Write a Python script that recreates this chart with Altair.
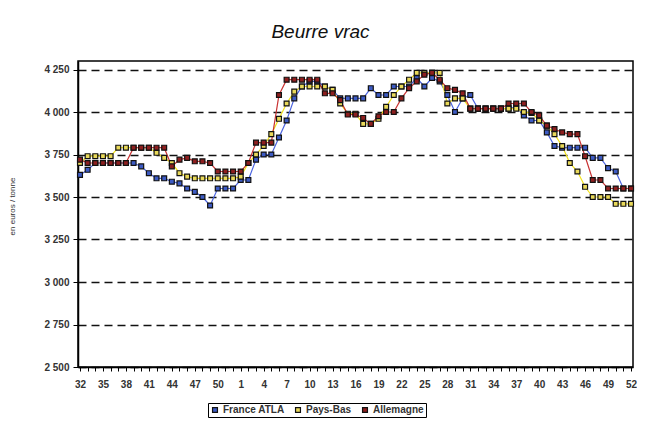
import altair as alt
import pandas as pd

# week labels: week 32 of year 1 to week 52 of year 2
weeks = [str(w) for w in list(range(32, 53)) + list(range(1, 53))]

france = [3630, 3660, 3700, 3700, 3700, 3700, 3700, 3700, 3680, 3640,
          3610, 3610, 3590, 3580, 3550, 3530, 3500, 3450, 3550, 3550,
          3550, 3600, 3600, 3720, 3750, 3750, 3850, 3950, 4080, 4150,
          4180, 4180, 4150, 4130, 4080, 4080, 4080, 4080, 4140, 4100,
          4100, 4150, 4150, 4150, 4200, 4150, 4200, 4180, 4100, 4000,
          4080, 4100, 4020, 4020, 4020, 4020, 4020, 4030, 3980, 3950,
          3950, 3880, 3800, 3790, 3790, 3790, 3790, 3730, 3730, 3670,
          3650, 3550, 3550]

paysbas = [3700, 3740, 3740, 3740, 3740, 3790, 3790, 3790, 3790, 3790,
           3760, 3730, 3700, 3640, 3620, 3610, 3610, 3610, 3610, 3610,
           3610, 3620, 3700, 3750, 3800, 3870, 3960, 4050, 4120, 4150,
           4150, 4150, 4150, 4130, 4050, 3990, 3990, 3930, 3930, 3960,
           4030, 4100, 4150, 4190, 4230, 4230, 4230, 4230, 4050, 4080,
           4080, 4020, 4020, 4020, 4020, 4020, 4020, 4020, 4000, 3995,
           3950, 3920, 3870, 3800, 3700, 3650, 3560, 3500, 3500, 3500,
           3460, 3460, 3460]

allemagne = [3720, 3700, 3700, 3700, 3700, 3700, 3700, 3790, 3790, 3790,
             3790, 3790, 3680, 3720, 3730, 3710, 3710, 3700, 3650, 3650,
             3650, 3650, 3700, 3820, 3820, 3820, 4100, 4190, 4190, 4190,
             4190, 4190, 4110, 4110, 4070, 3985, 3985, 3965, 3930, 3975,
             4000, 4000, 4080, 4140, 4180, 4220, 4230, 4190, 4140, 4130,
             4110, 4020, 4020, 4020, 4020, 4020, 4050, 4050, 4050, 4000,
             3980, 3920, 3900, 3880, 3870, 3870, 3740, 3600, 3600, 3550,
             3550, 3550, 3550]

series_names = ["France ATLA", "Pays-Bas", "Allemagne"]
series_values = [france, paysbas, allemagne]
line_colors = ["#4a63e0", "#f2e21a", "#c83232"]
fill_colors = ["#3d5bc4", "#e9d95a", "#8e1f1f"]
y_ticks = [2500, 2750, 3000, 3250, 3500, 3750, 4000, 4250]

rows = []
for s_i, (name, vals) in enumerate(zip(series_names, series_values)):
    for i, v in enumerate(vals):
        rows.append({"idx": i, "semaine": weeks[i], "serie": name,
                     "serie_ligne": name, "ordre": s_i, "prix": v})
df = pd.DataFrame(rows)

label_arr = "[" + ",".join("'" + w + "'" for w in weeks) + "]"
FONT = "Liberation Sans"

x_enc = alt.X(
    "idx:Q",
    scale=alt.Scale(domain=[-0.26, 72.26], nice=False, zero=False),
    axis=alt.Axis(
        values=list(range(len(weeks))),
        labelExpr=f"datum.value % 3 == 0 ? {label_arr}[datum.value] : ''",
        labelOverlap=False,
        labelFlush=False,
        grid=False,
        title=None,
        tickSize=4,
        tickColor="#000",
        domainColor="#000",
        domainWidth=1.5,
        labelFont=FONT,
        labelFontSize=10,
        labelFontWeight="bold",
        labelColor="#333",
        labelPadding=8,
    ),
)
y_enc = alt.Y(
    "prix:Q",
    scale=alt.Scale(domain=[2500, 4300], nice=False, zero=False),
    axis=alt.Axis(
        values=y_ticks,
        labelExpr="replace(format(datum.value, ','), ',', ' ')",
        title="en euros / tonne",
        titleFont=FONT,
        titleFontSize=8,
        titleFontWeight="normal",
        titleColor="#333",
        titleX=-62,
        titleY=145,
        titleAngle=-90,
        grid=True,
        gridDash=[8, 5],
        gridColor="#111",
        gridWidth=1.4,
        tickSize=5,
        tickColor="#000",
        domainColor="#000",
        domainWidth=1.5,
        labelFont=FONT,
        labelFontSize=10,
        labelFontWeight="bold",
        labelColor="#333",
        labelPadding=4,
    ),
)

base = alt.Chart(df)

# line scale declared in reversed order (same mapping) so that Vega-Lite does not
# merge its (hidden) legend with the marker legend
lines = base.mark_line(strokeWidth=1.2).encode(
    x=x_enc,
    y=y_enc,
    stroke=alt.Stroke(
        "serie_ligne:N",
        scale=alt.Scale(domain=series_names[::-1], range=line_colors[::-1]),
        legend=None,
    ),
    order="idx:Q",
)

points = base.mark_square(size=24, stroke="#111", strokeWidth=1.2, opacity=1).encode(
    x=x_enc,
    y=y_enc,
    color=alt.Color(
        "serie:N",
        scale=alt.Scale(domain=series_names, range=fill_colors),
        legend=alt.Legend(
            title=None,
            orient="none",
            legendX=130,
            legendY=342,
            direction="horizontal",
            symbolType="square",
            symbolSize=24,
            symbolStrokeColor="#111",
            symbolStrokeWidth=1.2,
            symbolOpacity=1,
            labelFont=FONT,
            labelFontSize=10,
            labelFontWeight="bold",
            labelColor="#333",
            strokeColor="#000",
            padding=2,
            columnPadding=8,
            labelOffset=3,
        ),
    ),
)

chart = (
    alt.layer(lines, points)
    .properties(
        width=555,
        height=306,
        padding={"left": 0, "top": 15, "right": 0, "bottom": 0},
        title=alt.TitleParams(
            "Beurre vrac",
            font=FONT,
            fontSize=19,
            fontStyle="italic",
            fontWeight="normal",
            color="#111",
            anchor="middle",
            dx=-35,
            offset=19,
        ),
        background="white",
    )
    .configure_view(stroke="#000", strokeWidth=1.5)
)

chart.save("out.html", embed_options={"renderer": "svg", "actions": False})
